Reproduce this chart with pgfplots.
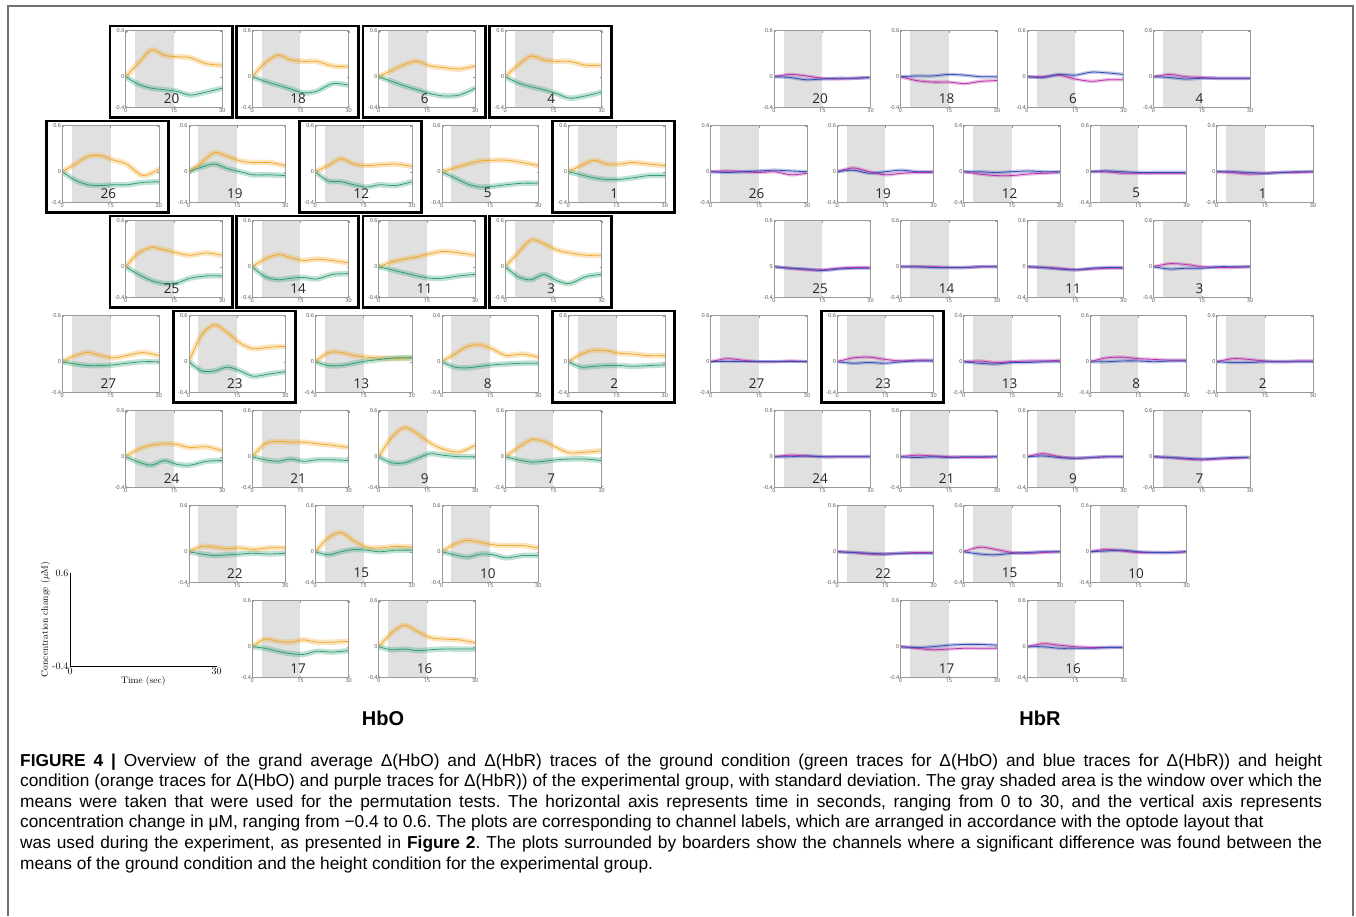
\documentclass[border=0pt]{standalone}
\usepackage{fontspec}
\usepackage{pgfplots}
\pgfplotsset{compat=1.18}
\newfontfamily\capfont{Liberation Sans}
\newfontfamily\numfont{Open Sans}
\definecolor{cOr}{RGB}{240,168,45}
\definecolor{cGr}{RGB}{48,158,112}
\definecolor{cBl}{RGB}{55,75,180}
\definecolor{cPu}{RGB}{185,50,170}
\definecolor{cSh}{RGB}{224,224,224}
\definecolor{cFr}{RGB}{112,112,112}
\pgfplotsset{cell/.style={anchor=north west, scale only axis, width=96.5pt, height=76.7pt,
  xmin=0,xmax=30,ymin=-0.4,ymax=0.6,
  xtick={0,15,30}, xticklabels={0,15,30}, ytick={-0.4,0,0.6}, yticklabels={-0.4,0,0.6},
  tick label style={font=\numfont\fontsize{5.5}{5.5}\selectfont, text=black!70, inner sep=1pt},
  axis line style={black!40, line width=0.5pt}, tick style={black!40, line width=0.4pt},
  tick align=inside, major tick length=1.8pt, axis on top, clip=true}}
\newcommand{\bandw}{5pt}
\newcommand{\cell}[8]{%
\begin{axis}[cell, at={(#1pt,-#2pt)}]
\addplot[fill=cSh, draw=none] coordinates {(3,-0.4)(3,0.6)(15,0.6)(15,-0.4)} -- cycle;
\addplot[#5, opacity=0.3, line width=\bandw, smooth, line cap=round] coordinates {#7};
\addplot[#6, opacity=0.3, line width=\bandw, smooth, line cap=round] coordinates {#8};
\addplot[#5, line width=0.8pt, smooth] coordinates {#7};
\addplot[#6, line width=0.8pt, smooth] coordinates {#8};
\node[font=\numfont\fontsize{13.5}{13.5}\selectfont, text=black!85] at (axis cs:14.3,-0.28) {#3};
\end{axis}
\ifnum#4=1 \draw[line width=2.8pt] (#1pt-15.7pt,-#2pt+4.7pt) rectangle (#1pt+106.5pt,-#2pt-86.7pt);\fi
}
\begin{document}
\begin{tikzpicture}
\path[use as bounding box] (0pt,0pt) rectangle (1356pt,-916pt);
\draw[cFr, line width=1.3pt] (8pt,-916pt) -- (8pt,-6pt) -- (1353pt,-6pt) -- (1353pt,-916pt);
% ---------------- HbO ----------------
\renewcommand{\bandw}{5.5pt}
\cell{125.7}{30.7}{20}{1}{cOr}{cGr}{(0,0)(4,0.18)(8,0.35)(12,0.28)(16,0.26)(20,0.25)(25,0.17)(30,0.15)}{(0,0)(4,-0.1)(8,-0.15)(12,-0.17)(16,-0.19)(20,-0.24)(25,-0.2)(30,-0.15)}
\cell{252.2}{30.7}{18}{1}{cOr}{cGr}{(0,0)(4,0.18)(8,0.28)(12,0.22)(16,0.2)(20,0.2)(25,0.14)(30,0.13)}{(0,0)(4,-0.06)(8,-0.11)(12,-0.16)(16,-0.21)(20,-0.19)(25,-0.09)(30,-0.11)}
\cell{378.7}{30.7}{6}{1}{cOr}{cGr}{(0,0)(4,0.08)(8,0.16)(12,0.2)(16,0.14)(20,0.12)(25,0.1)(30,0.14)}{(0,0)(4,-0.06)(8,-0.12)(12,-0.17)(16,-0.22)(20,-0.25)(25,-0.24)(30,-0.15)}
\cell{505.2}{30.7}{4}{1}{cOr}{cGr}{(0,0)(4,0.15)(8,0.27)(12,0.22)(16,0.2)(20,0.2)(25,0.15)(30,0.15)}{(0,0)(4,-0.08)(8,-0.13)(12,-0.17)(16,-0.22)(20,-0.28)(25,-0.25)(30,-0.2)}
\cell{62.3}{125.7}{26}{1}{cOr}{cGr}{(0,0)(4,0.1)(8,0.2)(12,0.21)(16,0.15)(20,0.1)(25,-0.05)(30,0.03)}{(0,0)(4,-0.11)(8,-0.17)(12,-0.18)(16,-0.17)(20,-0.17)(25,-0.14)(30,-0.13)}
\cell{188.8}{125.7}{19}{0}{cOr}{cGr}{(0,0)(4,0.12)(8,0.25)(12,0.2)(16,0.14)(20,0.12)(25,0.12)(30,0.08)}{(0,0)(4,0.06)(8,0.1)(12,0.04)(16,0.0)(20,-0.04)(25,-0.04)(30,-0.05)}
\cell{315.3}{125.7}{12}{1}{cOr}{cGr}{(0,0)(4,0.08)(8,0.17)(12,0.1)(16,0.08)(20,0.09)(25,0.1)(30,0.07)}{(0,0)(4,-0.12)(8,-0.13)(12,-0.17)(16,-0.2)(20,-0.17)(25,-0.18)(30,-0.13)}
\cell{441.8}{125.7}{5}{0}{cOr}{cGr}{(0,0)(4,0.05)(8,0.1)(12,0.14)(16,0.15)(20,0.15)(25,0.12)(30,0.08)}{(0,0)(4,-0.08)(8,-0.16)(12,-0.2)(16,-0.19)(20,-0.17)(25,-0.15)(30,-0.15)}
\cell{568.3}{125.7}{1}{1}{cOr}{cGr}{(0,0)(4,0.08)(8,0.15)(12,0.1)(16,0.1)(20,0.12)(25,0.1)(30,0.08)}{(0,0)(4,-0.04)(8,-0.08)(12,-0.1)(16,-0.1)(20,-0.08)(25,-0.05)(30,-0.05)}
\cell{125.7}{220.7}{25}{1}{cOr}{cGr}{(0,0)(4,0.18)(8,0.25)(12,0.22)(16,0.18)(20,0.15)(25,0.18)(30,0.15)}{(0,0)(4,-0.1)(8,-0.18)(12,-0.22)(16,-0.21)(20,-0.15)(25,-0.12)(30,-0.12)}
\cell{252.2}{220.7}{14}{1}{cOr}{cGr}{(0,0)(4,0.1)(8,0.16)(12,0.12)(16,0.08)(20,0.1)(25,0.08)(30,0.05)}{(0,0)(4,-0.13)(8,-0.17)(12,-0.15)(16,-0.14)(20,-0.16)(25,-0.1)(30,-0.09)}
\cell{378.7}{220.7}{11}{1}{cOr}{cGr}{(0,0)(4,0.06)(8,0.1)(12,0.13)(16,0.17)(20,0.2)(25,0.18)(30,0.15)}{(0,0)(4,-0.04)(8,-0.08)(12,-0.12)(16,-0.15)(20,-0.15)(25,-0.12)(30,-0.1)}
\cell{505.2}{220.7}{3}{1}{cOr}{cGr}{(0,0)(4,0.18)(8,0.35)(12,0.3)(16,0.22)(20,0.18)(25,0.15)(30,0.15)}{(0,0)(4,-0.13)(8,-0.17)(12,-0.1)(16,-0.18)(20,-0.22)(25,-0.13)(30,-0.1)}
\cell{62.3}{315.7}{27}{0}{cOr}{cGr}{(0,0)(4,0.08)(8,0.12)(12,0.08)(16,0.05)(20,0.08)(25,0.12)(30,0.08)}{(0,0)(4,-0.03)(8,-0.05)(12,-0.05)(16,-0.04)(20,-0.02)(25,0.0)(30,0.0)}
\cell{188.8}{315.7}{23}{1}{cOr}{cGr}{(0,0)(4,0.35)(8,0.48)(12,0.38)(16,0.24)(20,0.17)(25,0.19)(30,0.2)}{(0,0)(4,-0.12)(8,-0.12)(12,-0.07)(16,-0.12)(20,-0.19)(25,-0.16)(30,-0.13)}
\cell{315.3}{315.7}{13}{0}{cOr}{cGr}{(0,0)(4,0.12)(8,0.12)(12,0.08)(16,0.06)(20,0.05)(25,0.04)(30,0.05)}{(0,0)(4,-0.05)(8,-0.05)(12,-0.02)(16,0.01)(20,0.03)(25,0.05)(30,0.05)}
\cell{441.8}{315.7}{8}{0}{cOr}{cGr}{(0,0)(4,0.1)(8,0.2)(12,0.22)(16,0.16)(20,0.08)(25,0.1)(30,0.06)}{(0,0)(4,-0.07)(8,-0.08)(12,-0.06)(16,-0.04)(20,-0.03)(25,-0.02)(30,-0.02)}
\cell{568.3}{315.7}{2}{1}{cOr}{cGr}{(0,0)(4,0.1)(8,0.15)(12,0.14)(16,0.11)(20,0.1)(25,0.08)(30,0.08)}{(0,0)(4,-0.07)(8,-0.06)(12,-0.05)(16,-0.05)(20,-0.06)(25,-0.05)(30,-0.04)}
\cell{125.7}{410.7}{24}{0}{cOr}{cGr}{(0,0)(4,0.1)(8,0.15)(12,0.17)(16,0.16)(20,0.12)(25,0.13)(30,0.08)}{(0,0)(4,-0.07)(8,-0.11)(12,-0.05)(16,-0.1)(20,-0.11)(25,-0.06)(30,-0.05)}
\cell{252.2}{410.7}{21}{0}{cOr}{cGr}{(0,0)(4,0.17)(8,0.2)(12,0.19)(16,0.19)(20,0.17)(25,0.15)(30,0.12)}{(0,0)(4,-0.04)(8,-0.06)(12,-0.03)(16,-0.06)(20,-0.04)(25,-0.04)(30,-0.05)}
\cell{378.7}{410.7}{9}{0}{cOr}{cGr}{(0,0)(4,0.25)(8,0.38)(12,0.3)(16,0.18)(20,0.1)(25,0.06)(30,0.15)}{(0,0)(4,-0.08)(8,-0.08)(12,-0.02)(16,0.04)(20,0.02)(25,0.0)(30,0.0)}
\cell{505.2}{410.7}{7}{0}{cOr}{cGr}{(0,0)(4,0.12)(8,0.22)(12,0.2)(16,0.12)(20,0.05)(25,0.06)(30,0.08)}{(0,0)(4,-0.04)(8,-0.07)(12,-0.06)(16,-0.04)(20,-0.03)(25,-0.03)(30,-0.05)}
\cell{188.8}{505.7}{22}{0}{cOr}{cGr}{(0,0)(4,0.07)(8,0.06)(12,0.04)(16,0.05)(20,0.03)(25,0.05)(30,0.05)}{(0,0)(4,-0.03)(8,-0.05)(12,-0.04)(16,-0.03)(20,-0.02)(25,-0.03)(30,-0.02)}
\cell{315.3}{505.7}{15}{0}{cOr}{cGr}{(0,0)(4,0.18)(8,0.25)(12,0.14)(16,0.06)(20,0.05)(25,0.07)(30,0.06)}{(0,0)(4,-0.04)(8,0.0)(12,0.03)(16,0.02)(20,0.0)(25,0.02)(30,0.02)}
\cell{441.8}{505.7}{10}{0}{cOr}{cGr}{(0,0)(4,0.1)(8,0.15)(12,0.12)(16,0.09)(20,0.08)(25,0.08)(30,0.05)}{(0,0)(4,-0.04)(8,-0.07)(12,-0.03)(16,-0.04)(20,-0.08)(25,-0.05)(30,-0.05)}
\cell{252.2}{600.7}{17}{0}{cOr}{cGr}{(0,0)(4,0.1)(8,0.07)(12,0.06)(16,0.09)(20,0.06)(25,0.06)(30,0.07)}{(0,0)(4,-0.02)(8,-0.06)(12,-0.09)(16,-0.1)(20,-0.06)(25,-0.07)(30,-0.05)}
\cell{378.7}{600.7}{16}{0}{cOr}{cGr}{(0,0)(4,0.18)(8,0.28)(12,0.2)(16,0.12)(20,0.1)(25,0.09)(30,0.05)}{(0,0)(4,-0.04)(8,-0.03)(12,-0.05)(16,-0.04)(20,-0.03)(25,-0.03)(30,-0.03)}
% ---------------- HbR ----------------
\renewcommand{\bandw}{3.5pt}
\cell{774.0}{30.7}{20}{0}{cPu}{cBl}{(0,0)(5,0.03)(10,0.01)(15,-0.02)(20,-0.03)(25,-0.02)(30,-0.01)}{(0,0)(5,-0.01)(10,-0.04)(15,-0.03)(20,-0.02)(25,-0.02)(30,-0.01)}
\cell{900.5}{30.7}{18}{0}{cPu}{cBl}{(0,0)(5,-0.05)(10,-0.07)(15,-0.07)(20,-0.09)(25,-0.06)(30,-0.05)}{(0,0)(5,0.01)(10,0.01)(15,0.03)(20,0.02)(25,0)(30,0)}
\cell{1027.0}{30.7}{6}{0}{cPu}{cBl}{(0,0)(5,0)(10,0.02)(15,-0.03)(20,-0.06)(25,-0.04)(30,-0.04)}{(0,0)(5,-0.01)(10,0.03)(15,0.02)(20,0.06)(25,0.05)(30,0.03)}
\cell{1153.5}{30.7}{4}{0}{cPu}{cBl}{(0,0)(5,0.03)(10,0)(15,-0.01)(20,-0.02)(25,-0.02)(30,-0.02)}{(0,0)(5,-0.01)(10,-0.03)(15,-0.02)(20,-0.02)(25,-0.02)(30,-0.02)}
\cell{710.6}{125.7}{26}{0}{cPu}{cBl}{(0,0)(5,0.01)(10,0)(15,-0.01)(20,0)(25,-0.04)(30,-0.02)}{(0,0)(5,-0.01)(10,0)(15,0.01)(20,0.02)(25,0.01)(30,0)}
\cell{837.1}{125.7}{19}{0}{cPu}{cBl}{(0,0)(5,0.05)(10,0)(15,-0.04)(20,-0.02)(25,-0.01)(30,-0.01)}{(0,0)(5,0.02)(10,-0.02)(15,0)(20,0.02)(25,0)(30,0)}
\cell{963.6}{125.7}{12}{0}{cPu}{cBl}{(0,0)(5,-0.03)(10,-0.05)(15,-0.05)(20,-0.03)(25,-0.02)(30,-0.01)}{(0,0)(5,0)(10,-0.01)(15,0)(20,0.01)(25,0)(30,0)}
\cell{1090.1}{125.7}{5}{0}{cPu}{cBl}{(0,0)(5,0)(10,-0.02)(15,-0.02)(20,-0.02)(25,-0.02)(30,-0.02)}{(0,0)(5,0.01)(10,0)(15,-0.01)(20,-0.01)(25,-0.01)(30,-0.01)}
\cell{1216.6}{125.7}{1}{0}{cPu}{cBl}{(0,0)(5,-0.01)(10,-0.03)(15,-0.02)(20,-0.01)(25,-0.01)(30,0)}{(0,0)(5,0)(10,-0.01)(15,-0.02)(20,-0.01)(25,0)(30,0)}
\cell{774.0}{220.7}{25}{0}{cPu}{cBl}{(0,0)(5,-0.02)(10,-0.04)(15,-0.04)(20,-0.02)(25,-0.01)(30,-0.01)}{(0,0)(5,-0.02)(10,-0.03)(15,-0.05)(20,-0.03)(25,-0.02)(30,-0.02)}
\cell{900.5}{220.7}{14}{0}{cPu}{cBl}{(0,0)(5,0)(10,0)(15,-0.01)(20,-0.01)(25,0)(30,0)}{(0,0)(5,0)(10,-0.01)(15,-0.01)(20,-0.01)(25,0)(30,0)}
\cell{1027.0}{220.7}{11}{0}{cPu}{cBl}{(0,0)(5,-0.01)(10,-0.02)(15,-0.04)(20,-0.03)(25,-0.02)(30,-0.02)}{(0,0)(5,-0.01)(10,-0.03)(15,-0.04)(20,-0.02)(25,-0.01)(30,-0.01)}
\cell{1153.5}{220.7}{3}{0}{cPu}{cBl}{(0,0)(5,0.04)(10,0.03)(15,0)(20,-0.01)(25,-0.01)(30,0)}{(0,0)(5,-0.03)(10,-0.02)(15,-0.02)(20,0)(25,0)(30,0)}
\cell{710.6}{315.7}{27}{0}{cPu}{cBl}{(0,0)(5,0.04)(10,0.02)(15,0)(20,0)(25,0.01)(30,0)}{(0,0)(5,0)(10,0)(15,0)(20,0)(25,0)(30,0)}
\cell{837.1}{315.7}{23}{1}{cPu}{cBl}{(0,0)(5,0.05)(10,0.06)(15,0.03)(20,0.01)(25,0.02)(30,0.02)}{(0,0)(5,-0.02)(10,-0.01)(15,-0.02)(20,0)(25,0.01)(30,0.01)}
\cell{963.6}{315.7}{13}{0}{cPu}{cBl}{(0,0)(5,0.01)(10,-0.01)(15,0)(20,0.01)(25,0.01)(30,0.02)}{(0,0)(5,-0.02)(10,-0.03)(15,-0.01)(20,-0.01)(25,0)(30,0)}
\cell{1090.1}{315.7}{8}{0}{cPu}{cBl}{(0,0)(5,0.05)(10,0.06)(15,0.04)(20,0.03)(25,0.02)(30,0.02)}{(0,0)(5,0)(10,0.01)(15,0.01)(20,0)(25,0.01)(30,0.01)}
\cell{1216.6}{315.7}{2}{0}{cPu}{cBl}{(0,0)(5,0.04)(10,0.03)(15,0.01)(20,0)(25,0.01)(30,0.01)}{(0,0)(5,-0.01)(10,-0.01)(15,0)(20,0)(25,0)(30,0)}
\cell{774.0}{410.7}{24}{0}{cPu}{cBl}{(0,0)(5,0.02)(10,0.01)(15,0)(20,0)(25,0)(30,0)}{(0,0)(5,0)(10,0.01)(15,0)(20,0)(25,0)(30,0)}
\cell{900.5}{410.7}{21}{0}{cPu}{cBl}{(0,0)(5,0.02)(10,0.01)(15,0)(20,-0.01)(25,-0.01)(30,0)}{(0,0)(5,-0.01)(10,0)(15,-0.01)(20,0)(25,0)(30,0)}
\cell{1027.0}{410.7}{9}{0}{cPu}{cBl}{(0,0)(5,0.04)(10,0)(15,-0.02)(20,-0.01)(25,0)(30,0)}{(0,0)(5,0.01)(10,-0.01)(15,-0.02)(20,-0.01)(25,0)(30,0)}
\cell{1153.5}{410.7}{7}{0}{cPu}{cBl}{(0,0)(5,-0.01)(10,-0.03)(15,-0.04)(20,-0.03)(25,-0.02)(30,-0.01)}{(0,0)(5,-0.01)(10,-0.02)(15,-0.03)(20,-0.02)(25,-0.01)(30,-0.01)}
\cell{837.1}{505.7}{22}{0}{cPu}{cBl}{(0,0)(5,-0.01)(10,-0.03)(15,-0.03)(20,-0.02)(25,-0.01)(30,-0.01)}{(0,0)(5,-0.01)(10,-0.02)(15,-0.03)(20,-0.02)(25,-0.02)(30,-0.02)}
\cell{963.6}{505.7}{15}{0}{cPu}{cBl}{(0,0)(5,0.06)(10,0.03)(15,-0.01)(20,-0.02)(25,-0.01)(30,0)}{(0,0)(5,-0.03)(10,-0.04)(15,-0.02)(20,-0.01)(25,0)(30,0)}
\cell{1090.1}{505.7}{10}{0}{cPu}{cBl}{(0,0)(5,0.03)(10,0.01)(15,-0.01)(20,-0.01)(25,-0.01)(30,0)}{(0,0)(5,0.01)(10,0.02)(15,0)(20,-0.01)(25,-0.01)(30,0)}
\cell{900.5}{600.7}{17}{0}{cPu}{cBl}{(0,0)(5,-0.02)(10,-0.04)(15,-0.03)(20,-0.02)(25,-0.02)(30,-0.02)}{(0,0)(5,-0.01)(10,0)(15,0.02)(20,0.03)(25,0.03)(30,0.02)}
\cell{1027.0}{600.7}{16}{0}{cPu}{cBl}{(0,0)(5,0.04)(10,0.02)(15,0)(20,-0.01)(25,-0.01)(30,-0.01)}{(0,0)(5,0)(10,-0.02)(15,-0.02)(20,-0.02)(25,-0.01)(30,-0.01)}
% ---------------- key axis ----------------
\begin{axis}[at={(70pt,-666pt)}, anchor=south west, scale only axis, width=146.7pt, height=93pt,
  xmin=0,xmax=30,ymin=-0.4,ymax=0.6, axis x line*=bottom, axis y line*=left,
  axis line style={-, black, line width=0.7pt},
  xtick={0,30}, xticklabels={0,30}, ytick={-0.4,0.6}, yticklabels={-0.4,0.6},
  major tick length=0pt, tick label style={font=\fontsize{10}{10}\selectfont, inner sep=1.5pt},
  xlabel={Time (sec)}, ylabel={Concentration change ($\mu$M)},
  label style={font=\fontsize{9.5}{9.5}\selectfont}, xlabel style={yshift=3pt}, ylabel style={yshift=-3pt}]
\end{axis}
\node[font=\capfont\bfseries\fontsize{20}{20}\selectfont] at (383pt,-718pt) {HbO};
\node[font=\capfont\bfseries\fontsize{20}{20}\selectfont] at (1040pt,-718pt) {HbR};
% ---------------- caption ----------------
\begin{scope}[every node/.style={anchor=base west, inner sep=0pt, font=\capfont\fontsize{17.3}{17.3}\selectfont\frenchspacing}]
\node at (20pt,-766pt) {\makebox[1302pt][s]{{\bfseries FIGURE 4 |} Overview of the grand average Δ(HbO) and Δ(HbR) traces of the ground condition (green traces for Δ(HbO) and blue traces for Δ(HbR)) and height}};
\node at (20pt,-786.6pt) {\makebox[1302pt][s]{condition (orange traces for Δ(HbO) and purple traces for Δ(HbR)) of the experimental group, with standard deviation. The gray shaded area is the window over which the}};
\node at (20pt,-807.2pt) {\makebox[1302pt][s]{means were taken that were used for the permutation tests. The horizontal axis represents time in seconds, ranging from 0 to 30, and the vertical axis represents}};
\node at (20pt,-827.8pt) {concentration change in μM, ranging from −0.4 to 0.6. The plots are corresponding to channel labels, which are arranged in accordance with the optode layout that};
\node at (20pt,-848.4pt) {\makebox[1302pt][s]{was used during the experiment, as presented in {\bfseries Figure 2}. The plots surrounded by boarders show the channels where a significant difference was found between the}};
\node at (20pt,-869pt) {means of the ground condition and the height condition for the experimental group.};
\end{scope}
\end{tikzpicture}
\end{document}
